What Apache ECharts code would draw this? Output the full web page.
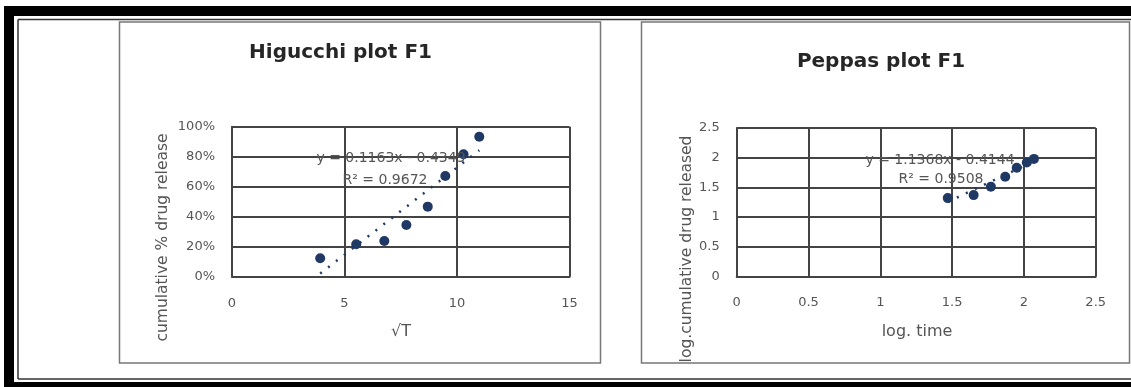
<!DOCTYPE html>
<html>
<head>
<meta charset="utf-8">
<title>Higucchi and Peppas plots F1</title>
<script src="https://cdn.jsdelivr.net/npm/echarts@6/dist/echarts.min.js"></script>
<style>
  html, body { margin: 0; padding: 0; background: #fff; }
  #chart { width: 1131px; height: 387px; }
</style>
</head>
<body>
<div id="chart"></div>
<script>
// Higucchi plot: square root of time vs cumulative fraction released
const higuchiX = [3.92, 5.52, 6.77, 7.75, 8.70, 9.48, 10.29, 10.99];
const higuchiY = [0.123, 0.216, 0.238, 0.345, 0.467, 0.671, 0.816, 0.933];
const higuchiSlope = 0.1163;
const higuchiIntercept = -0.4349;
const higuchiR2 = '0.9672';
const higuchiXTicks = [0, 5, 10, 15];
const higuchiYTicks = ['0%', '20%', '40%', '60%', '80%', '100%'];

// Peppas plot: log time vs log cumulative drug released
const peppasX = [1.47, 1.65, 1.77, 1.87, 1.95, 2.02, 2.07];
const peppasY = [1.32, 1.37, 1.51, 1.68, 1.83, 1.92, 1.98];
const peppasSlope = 1.1368;
const peppasIntercept = -0.4144;
const peppasR2 = '0.9508';
const peppasXTicks = ['0', '0.5', '1', '1.5', '2', '2.5'];
const peppasYTicks = ['0', '0.5', '1', '1.5', '2', '2.5'];

const FONT = '"DejaVu Sans", sans-serif';
const MARK = '#1f3864';
const GRID_LINE = '#444444';
const TEXT = '#555555';

function pairs(xs, ys) { return xs.map((x, i) => [x, ys[i]]); }
function fitLine(xs, slope, intercept) {
  const lo = Math.min(...xs), hi = Math.max(...xs);
  return [[lo, slope * lo + intercept], [hi, slope * hi + intercept]];
}
function eqText(slope, intercept) {
  const sign = intercept < 0 ? ' - ' : ' + ';
  return 'y = ' + slope.toFixed(4) + 'x' + sign + Math.abs(intercept).toFixed(4);
}

const axisCommon = {
  axisLine: { show: true, lineStyle: { color: GRID_LINE, width: 2 } },
  axisTick: { show: false },
  splitLine: { show: true, lineStyle: { color: GRID_LINE, width: 2 } }
};

const chart = echarts.init(document.getElementById('chart'), null, { renderer: 'canvas' });

const option = {
  backgroundColor: '#ffffff',
  animation: false,
  grid: [
    { left: 232, top: 126.7, width: 337.5, height: 150 },
    { left: 736.7, top: 128, width: 359, height: 148.5 }
  ],
  xAxis: [
    Object.assign({}, axisCommon, {
      gridIndex: 0, type: 'value', min: 0, max: 15, interval: 5,
      axisLabel: {
        margin: 20, color: TEXT, fontFamily: FONT, fontSize: 13,
        formatter: v => String(higuchiXTicks[Math.round(v / 5)])
      }
    }),
    Object.assign({}, axisCommon, {
      gridIndex: 1, type: 'value', min: 0, max: 2.5, interval: 0.5,
      axisLabel: {
        margin: 20, color: TEXT, fontFamily: FONT, fontSize: 13,
        formatter: v => peppasXTicks[Math.round(v / 0.5)]
      }
    })
  ],
  yAxis: [
    Object.assign({}, axisCommon, {
      gridIndex: 0, type: 'value', min: 0, max: 1, interval: 0.2,
      axisLabel: {
        margin: 17, color: TEXT, fontFamily: FONT, fontSize: 13, padding: [9, 0, 0, 0],
        formatter: v => higuchiYTicks[Math.round(v / 0.2)]
      }
    }),
    Object.assign({}, axisCommon, {
      gridIndex: 1, type: 'value', min: 0, max: 2.5, interval: 0.5,
      axisLabel: {
        margin: 17, color: TEXT, fontFamily: FONT, fontSize: 13, padding: [9, 0, 0, 0],
        formatter: v => peppasYTicks[Math.round(v / 0.5)]
      }
    })
  ],
  series: [
    {
      name: 'Higucchi trend', type: 'line', xAxisIndex: 0, yAxisIndex: 0,
      data: fitLine(higuchiX, higuchiSlope, higuchiIntercept),
      symbol: 'none', z: 2,
      lineStyle: { color: MARK, width: 2.5, type: [2, 8] }
    },
    {
      name: 'Higucchi', type: 'scatter', xAxisIndex: 0, yAxisIndex: 0,
      data: pairs(higuchiX, higuchiY), symbolSize: 10, z: 3,
      itemStyle: { color: MARK, opacity: 1 }
    },
    {
      name: 'Peppas trend', type: 'line', xAxisIndex: 1, yAxisIndex: 1,
      data: fitLine(peppasX, peppasSlope, peppasIntercept),
      symbol: 'none', z: 2,
      lineStyle: { color: MARK, width: 2.5, type: [2, 8] }
    },
    {
      name: 'Peppas', type: 'scatter', xAxisIndex: 1, yAxisIndex: 1,
      data: pairs(peppasX, peppasY), symbolSize: 10, z: 3,
      itemStyle: { color: MARK, opacity: 1 }
    }
  ],
  graphic: [
    // outer double frame
    { type: 'rect', shape: { x: 4, y: 6, width: 1127, height: 10 }, style: { fill: '#000' }, z: 10 },
    { type: 'rect', shape: { x: 4, y: 6, width: 10, height: 381 }, style: { fill: '#000' }, z: 10 },
    { type: 'rect', shape: { x: 4, y: 382, width: 1127, height: 5 }, style: { fill: '#000' }, z: 10 },
    { type: 'line', shape: { x1: 18, y1: 19.5, x2: 1131, y2: 19.5 }, style: { stroke: '#333', lineWidth: 1.5 }, z: 10 },
    { type: 'line', shape: { x1: 18, y1: 19.5, x2: 18, y2: 379 }, style: { stroke: '#333', lineWidth: 1.5 }, z: 10 },
    { type: 'line', shape: { x1: 18, y1: 379, x2: 1131, y2: 379 }, style: { stroke: '#333', lineWidth: 1.5 }, z: 10 },
    // chart boxes
    { type: 'rect', shape: { x: 119.5, y: 22, width: 481, height: 341 }, style: { fill: null, stroke: '#777', lineWidth: 1.5 }, z: 10 },
    { type: 'rect', shape: { x: 641.5, y: 22, width: 488, height: 341 }, style: { fill: null, stroke: '#777', lineWidth: 1.5 }, z: 10 },
    // titles
    { type: 'text', x: 340.5, y: 53, z: 10,
      style: { text: 'Higucchi plot F1', font: 'bold 20px ' + FONT, fill: '#262626', align: 'center', verticalAlign: 'middle' } },
    { type: 'text', x: 881, y: 62, z: 10,
      style: { text: 'Peppas plot F1', font: 'bold 20px ' + FONT, fill: '#262626', align: 'center', verticalAlign: 'middle' } },
    // axis titles
    { type: 'text', x: 401, y: 332, z: 10,
      style: { text: '\u221AT', font: '16px ' + FONT, fill: TEXT, align: 'center', verticalAlign: 'middle' } },
    { type: 'text', x: 917, y: 332, z: 10,
      style: { text: 'log. time', font: '16px ' + FONT, fill: TEXT, align: 'center', verticalAlign: 'middle' } },
    { type: 'text', x: 163, y: 237.5, rotation: Math.PI / 2, z: 10,
      style: { text: 'cumulative % drug release', font: '15.5px ' + FONT, fill: TEXT, align: 'center', verticalAlign: 'middle' } },
    { type: 'text', x: 687, y: 249, rotation: Math.PI / 2, z: 10,
      style: { text: 'log.cumulative drug released', font: '15.5px ' + FONT, fill: TEXT, align: 'center', verticalAlign: 'middle' } },
    // trendline equations
    { type: 'text', x: 391, y: 158.5, z: 10,
      style: { text: eqText(higuchiSlope, higuchiIntercept), font: '14px ' + FONT, fill: TEXT, align: 'center', verticalAlign: 'middle' } },
    { type: 'text', x: 385, y: 180, z: 10,
      style: { text: 'R\u00B2 = ' + higuchiR2, font: '14px ' + FONT, fill: TEXT, align: 'center', verticalAlign: 'middle' } },
    { type: 'text', x: 940, y: 160, z: 10,
      style: { text: eqText(peppasSlope, peppasIntercept), font: '14px ' + FONT, fill: TEXT, align: 'center', verticalAlign: 'middle' } },
    { type: 'text', x: 941, y: 179.5, z: 10,
      style: { text: 'R\u00B2 = ' + peppasR2, font: '14px ' + FONT, fill: TEXT, align: 'center', verticalAlign: 'middle' } }
  ]
};

chart.setOption(option);
</script>
</body>
</html>
